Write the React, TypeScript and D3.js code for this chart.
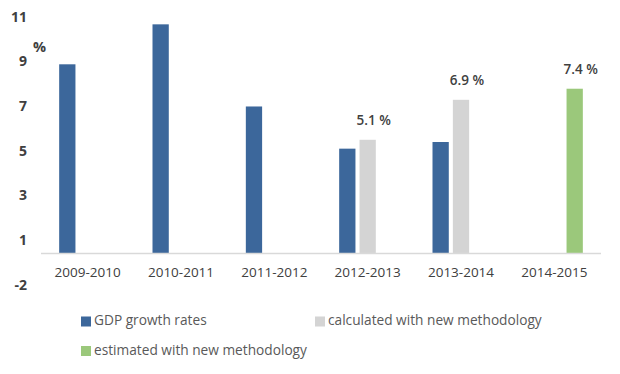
import React from "react";
import * as d3 from "d3";

const categories = ["2009-2010", "2010-2011", "2011-2012", "2012-2013", "2013-2014", "2014-2015"];
const seriesNames = ["GDP growth rates", "calculated with new methodology", "estimated with new methodology"];
const gdpGrowth: (number | null)[] = [8.5, 10.3, 6.6, 4.7, 5.0, null];
const calculatedNew: (number | null)[] = [null, null, null, 5.1, 6.9, null];
const estimatedNew: (number | null)[] = [null, null, null, null, null, 7.4];
const dataLabels: (string | null)[][] = [
  [null, null, null, null, null, null],
  [null, null, null, "5.1 %", "6.9 %", null],
  [null, null, null, null, null, "7.4 %"],
];
const yTickLabels = ["11", "9", "7", "5", "3", "1", "-2"];
const colors = ["#3C679B", "#D4D4D4", "#9BC87B"];

const W = 620;
const H = 374;
const FONT = "'Open Sans', 'Liberation Sans', sans-serif";
const TXT = "#404040";

export default function App() {
  const series = [gdpGrowth, calculatedNew, estimatedNew];
  const x0 = d3.scaleBand<string>().domain(categories).range([41, 601]).padding(0);
  const groupW = 57;
  const off = (x0.bandwidth() - groupW) / 2;
  const x1 = d3
    .scaleBand<string>()
    .domain(seriesNames)
    .range([off, off + groupW])
    .paddingInner(0.2)
    .paddingOuter(0);
  const y = d3.scaleLinear().domain([0, 11]).range([253, 253 - 11 * 22.2]);
  const yLab = d3.scalePoint<string>().domain(yTickLabels).range([18, 286]);

  return (
    <svg width={W} height={H} style={{ position: "absolute", left: 0, top: 0, background: "#fff" }}>
      {/* y tick labels */}
      {yTickLabels.map((t) => (
        <text
          key={t}
          x={27}
          y={yLab(t)}
          textAnchor="end"
          dominantBaseline="middle"
          fontFamily={FONT}
          fontSize={14}
          fontWeight={700}
          fill={TXT}
        >
          {t}
        </text>
      ))}
      <text x={33} y={48} dominantBaseline="middle" fontFamily={FONT} fontSize={14.5} fontWeight={700} fill={TXT}>
        %
      </text>

      {/* bars */}
      {series.map((vals, si) =>
        vals.map((v, ci) =>
          v == null ? null : (
            <rect
              key={`${si}-${ci}`}
              x={(x0(categories[ci]) as number) + (x1(seriesNames[si]) as number)}
              y={y(v)}
              width={x1.bandwidth()}
              height={y(0) - y(v)}
              fill={colors[si]}
            />
          )
        )
      )}

      {/* data labels */}
      {dataLabels.map((labs, si) =>
        labs.map((lab, ci) => {
          const v = series[si][ci];
          if (lab == null || v == null) return null;
          const cx = (x0(categories[ci]) as number) + (x1(seriesNames[si]) as number) + x1.bandwidth() / 2 + 6;
          return (
            <text
              key={`l${si}-${ci}`}
              x={cx}
              y={y(v) - 18}
              textAnchor="middle"
              dominantBaseline="middle"
              fontFamily={FONT}
              fontSize={13.5}
              fontWeight={600}
              fill={TXT}
            >
              {lab}
            </text>
          );
        })
      )}

      {/* x axis line */}
      <line x1={41} x2={601} y1={y(0) + 0.5} y2={y(0) + 0.5} stroke="#D9D9D9" strokeWidth={1.5} />

      {/* category labels */}
      {categories.map((c) => (
        <text
          key={c}
          x={(x0(c) as number) + x0.bandwidth() / 2}
          y={273}
          textAnchor="middle"
          dominantBaseline="middle"
          fontFamily={FONT}
          fontSize={13.5}
          fill={TXT}
        >
          {c}
        </text>
      ))}

      {/* legend */}
      {seriesNames.map((s, i) => {
        const lx = i === 1 ? 315 : 81;
        const ly = i === 2 ? 351 : 321.5;
        return (
          <g key={s}>
            <rect x={lx} y={ly - 5} width={10} height={10} fill={colors[i]} />
            <text
              x={lx + 13}
              y={ly}
              dominantBaseline="middle"
              fontFamily={FONT}
              fontSize={13.7}
              fill="#595959"
            >
              {s}
            </text>
          </g>
        );
      })}
    </svg>
  );
}
